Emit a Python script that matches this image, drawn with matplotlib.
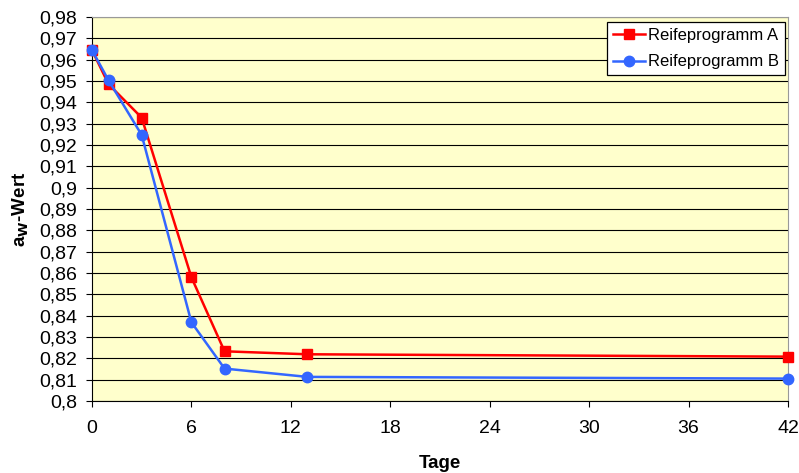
import numpy as np
import matplotlib.pyplot as plt
from matplotlib.ticker import FuncFormatter

plt.rcParams['font.family'] = ['Liberation Sans', 'DejaVu Sans']

# Daten
tage = [0, 1, 3, 6, 8, 13, 42]
reife_a = [0.9645, 0.9485, 0.9328, 0.8580, 0.8233, 0.8219, 0.8208]
reife_b = [0.9645, 0.9503, 0.9247, 0.8369, 0.8152, 0.8113, 0.8105]
x_ticks = [0, 6, 12, 18, 24, 30, 36, 42]
y_ticks = np.arange(0.80, 0.981, 0.01)

fig = plt.figure(figsize=(7.99, 4.73), dpi=100)
ax = fig.add_axes([0.1151, 0.1522, 0.8711, 0.8119])
ax.set_facecolor('#FFFFCC')

ax.plot(tage, reife_a, color='#FF0000', lw=1.8, marker='s', ms=7.5,
        label='Reifeprogramm A', clip_on=False, zorder=3)
ax.plot(tage, reife_b, color='#3366FF', lw=1.8, marker='o', ms=7.5,
        label='Reifeprogramm B', clip_on=False, zorder=4)

ax.set_xlim(0, 42)
ax.set_ylim(0.80, 0.98)
ax.set_xticks(x_ticks)
ax.set_yticks(y_ticks)
ax.yaxis.set_major_formatter(FuncFormatter(lambda v, p: ('%g' % round(v, 2)).replace('.', ',')))
ax.tick_params(axis='both', labelsize=14, direction='out', length=4.5, width=0.8, colors='black')
ax.tick_params(axis='y', pad=6)
ax.tick_params(axis='x', pad=9)
ax.grid(axis='y', color='black', lw=0.8)
ax.set_axisbelow(True)

for s in ['top', 'right']:
    ax.spines[s].set_color('#999999')
for s in ['left', 'bottom']:
    ax.spines[s].set_color('black')

ax.set_xlabel('Tage', fontsize=13.5, fontweight='bold', labelpad=13)
ax.set_ylabel('a$_{\\mathbf{W}}$-Wert', fontsize=13.5, fontweight='bold', labelpad=6)

leg = ax.legend(loc='upper right', bbox_to_anchor=(0.9957, 0.987), borderaxespad=0,
                fontsize=12, frameon=True, fancybox=False,
                edgecolor='black', framealpha=1,
                handlelength=1.9, handletextpad=0.2, borderpad=0.35, labelspacing=0.7)
leg.get_frame().set_linewidth(0.9)

fig.savefig('out.png', dpi=100)
